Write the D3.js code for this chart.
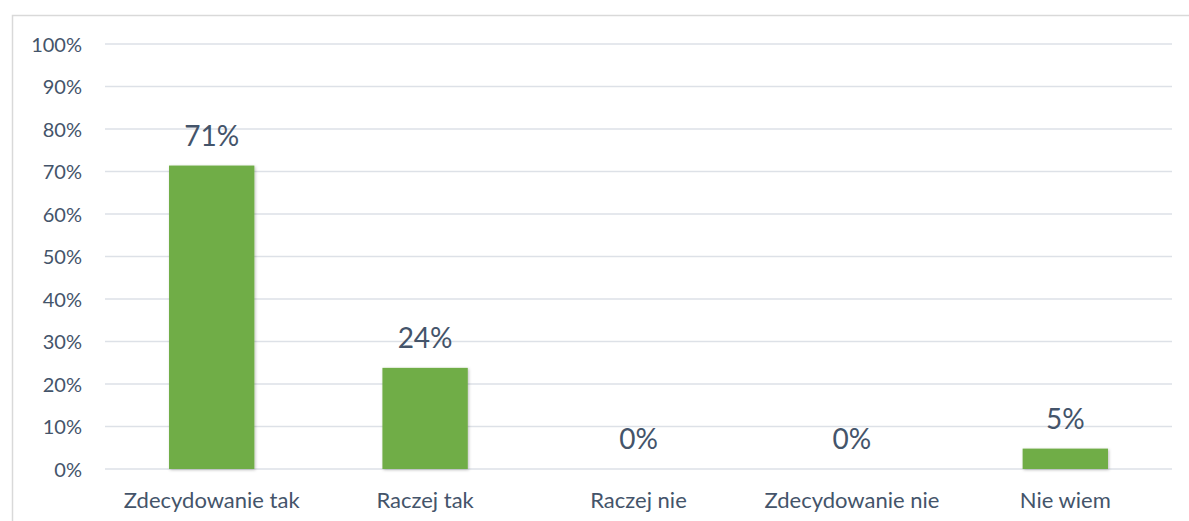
<!DOCTYPE html>
<html><head><meta charset="utf-8">
<script src="https://cdn.jsdelivr.net/npm/d3@7"></script>
<style>
html,body{margin:0;padding:0;background:#fff;}
svg{display:block;}
text{font-family:Lato,"Open Sans",sans-serif;}
</style></head>
<body>
<svg id="c" width="1189" height="521"></svg>
<script>
const categories = ["Zdecydowanie tak", "Raczej tak", "Raczej nie", "Zdecydowanie nie", "Nie wiem"];
const values = [71.4, 23.8, 0, 0, 4.8];
const valueLabels = ["71%", "24%", "0%", "0%", "5%"];
const yTicks = [0, 10, 20, 30, 40, 50, 60, 70, 80, 90, 100];

const svg = d3.select("#c");
const W = 1189, H = 521;
const m = {left: 105, right: 17, top: 44, bottom: 52};
const textColor = "#44546a";

// chart border
svg.append("rect").attr("x", 12.5).attr("y", 15.5).attr("width", W).attr("height", H)
  .attr("fill", "none").attr("stroke", "#d9d9d9").attr("stroke-width", 1.5);

const defs = svg.append("defs");
const f = defs.append("filter").attr("id", "sh").attr("x", "-10%").attr("y", "-10%").attr("width", "130%").attr("height", "130%");
f.append("feDropShadow").attr("dx", 1).attr("dy", 1).attr("stdDeviation", 1.5).attr("flood-color", "#000").attr("flood-opacity", 0.25);

const x = d3.scaleBand().domain(categories).range([m.left, W - m.right]).paddingInner(0.6).paddingOuter(0.3);
const y = d3.scaleLinear().domain([0, 100]).range([H - m.bottom, m.top]);

// gridlines
svg.append("g").selectAll("line").data(yTicks).join("line")
  .attr("x1", m.left).attr("x2", W - m.right)
  .attr("y1", d => y(d)).attr("y2", d => y(d))
  .attr("stroke", "#dde1e7").attr("stroke-width", 1.5);

// y axis
const yAxis = d3.axisLeft(y).tickValues(yTicks).tickFormat(d => d + "%").tickSize(0).tickPadding(0);
const gy = svg.append("g").attr("transform", `translate(${m.left - 23},0)`).call(yAxis);
gy.select(".domain").remove();
gy.selectAll("text").attr("fill", textColor).style("font-size", "20px").attr("dy", "0.36em");

// x axis
const xAxis = d3.axisBottom(x).tickSize(0).tickPadding(0);
const gx = svg.append("g").attr("transform", `translate(0,508)`).call(xAxis);
gx.select(".domain").remove();
gx.selectAll("text").attr("fill", textColor).style("font-size", "22px").attr("y", 0).attr("dy", "0");

// bars
svg.append("g").selectAll("rect").data(values).join("rect")
  .attr("x", (d, i) => x(categories[i]))
  .attr("width", x.bandwidth())
  .attr("y", d => y(d))
  .attr("height", d => y(0) - y(d))
  .attr("fill", "#70ad47")
  .attr("filter", "url(#sh)");

// value labels
svg.append("g").selectAll("text").data(values).join("text")
  .attr("x", (d, i) => x(categories[i]) + x.bandwidth() / 2)
  .attr("y", d => y(d) - 20)
  .attr("text-anchor", "middle")
  .attr("fill", textColor)
  .style("font-size", "28px")
  .text((d, i) => valueLabels[i]);
</script>
</body></html>
